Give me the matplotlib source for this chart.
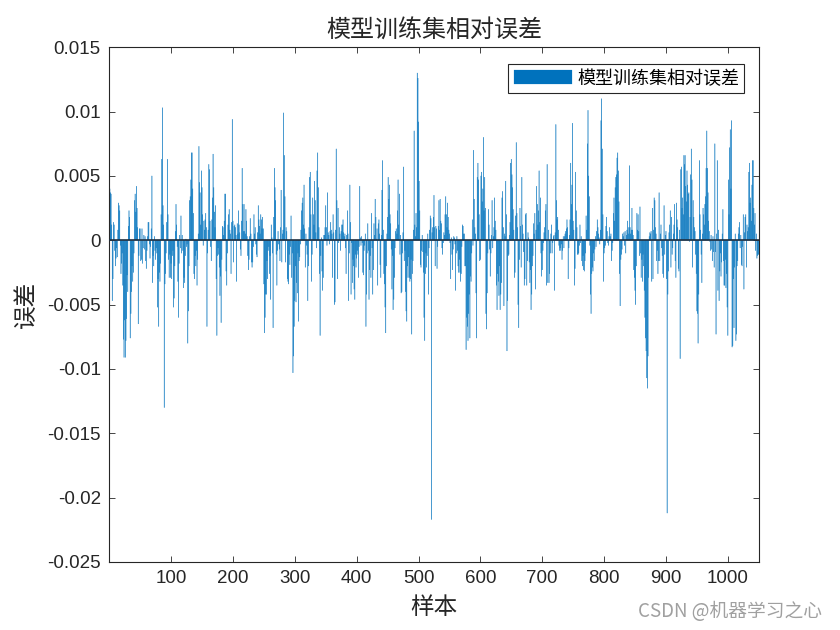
import matplotlib

matplotlib.use("Agg")
import matplotlib.pyplot as plt
import numpy as np

# relative error per training sample, in units of 1e-4
err_0001_0150 = [
    40, 37, 36, 12, -47, -30, 14, 12, -8, -20,
    -14, -6, -13, 8, 29, 27, 23, -4, -26, -18,
    -10, -35, -77, -91, -62, -91, -78, -61, -27, -40,
    11, 23, 18, -76, -57, -40, -20, -32, -25, -10,
    31, 36, 22, 42, 25, 10, -65, -12, 9, 9,
    -16, -15, 9, -18, -6, 4, -7, 3, -16, -22,
    -8, 3, 14, 14, -3, -14, -5, 9, 50, -33,
    -12, -20, 3, -8, -15, -6, -10, -52, -30, -67,
    -25, -32, -18, 20, 63, 103, 27, 12, -130, -34,
    -26, -10, 14, 63, 20, -15, -29, -11, -29, -18,
    -30, -12, -8, -52, -45, -20, 7, 28, 12, -5,
    -32, -60, -18, 4, -6, 19, -10, 4, -8, -37,
    -29, -33, -12, 1, -5, -3, -80, -55, -20, 31,
    34, 47, 68, 68, 40, 21, -26, -30, -12, -20,
    -8, -35, -15, 5, 73, 45, 37, 12, 54, 41,
]
err_0151_0300 = [
    20, -4, 15, 8, 16, 21, 10, -67, -10, 8,
    59, 55, 15, -5, -16, 16, 33, 67, 41, 22,
    10, 27, -30, -74, -12, -6, -11, -21, -43, -28,
    -64, -15, 11, 10, 4, 15, 36, 36, -24, -35,
    -10, 12, 20, 24, 8, 5, -26, 14, 94, 15,
    -17, 11, 12, 10, 4, -32, 13, 5, 23, 12,
    6, -7, -12, 15, 56, 28, 7, 28, 7, 5,
    24, 15, 3, -12, -23, -15, 3, 17, 5, -17,
    -21, -17, -5, 20, 5, 10, -3, -11, -13, 6,
    27, 16, 11, 5, 20, 16, 9, 18, 9, -34,
    -72, -60, -42, -42, -16, -30, -8, -5, -26, -12,
    -46, 12, 2, -10, -68, 18, 56, 41, 31, -11,
    -35, -8, 7, -3, -7, -16, 10, 39, -17, 5,
    8, 99, 66, 34, -17, 10, 7, -30, -32, -34,
    -11, -19, -5, 19, -29, -10, -103, -90, -67, -47,
]
err_0301_0450 = [
    -20, -48, -33, -41, -10, -63, -16, -13, -3, 8,
    23, 29, 33, 12, 43, 9, -21, 5, -4, -11,
    -47, -20, 10, 49, 53, 20, -32, -11, 33, 20,
    12, 46, 31, 6, -6, 54, 68, 41, 10, -26,
    -74, -12, 2, -24, -39, -29, 4, 4, 10, 27,
    10, -4, 37, 6, 4, -3, 7, 14, 8, 5,
    -29, 20, 6, -50, -48, 8, 71, 31, -30, 25,
    -2, 10, 5, -8, 7, 12, 12, 16, 6, 3,
    5, -6, -26, 4, 23, 5, -47, -10, 43, 14,
    -42, -2, -33, -15, -20, -38, -46, -11, -21, -14,
    -8, -11, -29, -5, 42, 2, -4, 3, -2, -25,
    -27, -8, -4, 5, -67, -42, -10, 13, -8, -46,
    -23, -12, -29, 21, -6, -42, -23, 13, 4, 32,
    18, 1, 9, -35, 13, 16, 5, -19, -29, 4,
    39, 62, 8, -26, -34, -52, -72, -20, 5, 18,
]
err_0451_0600 = [
    49, 32, 43, 20, 13, -7, -38, -12, -54, -46,
    -29, -6, 7, 9, 5, 23, 47, 12, 36, -11,
    4, -41, -40, -10, 6, 57, -16, -8, -40, -55,
    -63, -20, -29, -13, -29, -32, -30, -15, -73, -26,
    -16, 8, 85, 12, 3, 21, 10, 130, 126, 92,
    46, 23, -19, -21, -8, 4, -9, -25, -60, -78,
    -26, -10, -21, -12, 5, -42, -6, 8, 19, 17,
    -217, 6, 10, 18, 35, 10, -20, 11, 9, -22,
    -5, 11, 31, 8, 32, 15, 13, -6, -11, -2,
    6, 4, 20, 34, 20, 10, 29, 18, 8, 5,
    -2, -30, 2, -11, -23, -7, 3, 2, -3, -39,
    -10, 3, -8, -20, -25, -15, -25, -32, -26, -5,
    12, 11, 5, 5, -20, -20, -85, -60, -67, -78,
    -57, -42, -76, -28, -32, -10, 16, -4, 70, 32,
    10, 5, -41, -76, 49, 60, 47, 20, -16, -15,
]
err_0601_0750 = [
    50, 53, 30, 40, 80, 23, 49, 25, -57, -69,
    -41, -10, 24, 12, -7, -28, -10, 4, 31, -6,
    3, 10, 33, 15, 8, -35, -54, -26, -32, -43,
    -20, -54, -42, -33, 33, 38, 10, -51, 5, 3,
    46, 20, -86, -47, -12, -11, 4, 14, 60, 63,
    51, 41, 24, 8, -29, -25, 19, 76, 21, 10,
    -50, -68, -15, 25, 11, -21, 49, 12, 5, -9,
    -35, -30, 20, 21, -35, -16, 6, 2, -17, -33,
    -23, -54, -42, -20, -12, 13, 5, 21, -38, 8,
    42, 28, 12, 23, 54, 14, 33, -10, -28, -23,
    -8, -2, 6, 10, 23, 28, -35, 59, -33, 8,
    -33, -26, -10, 5, 12, -10, -2, 3, 4, -39,
    6, 90, 31, 16, 18, 8, -4, -8, -6, -8,
    -3, -15, -8, 3, -6, 3, 5, 7, 9, 16,
    10, -30, -6, 4, 16, 60, 28, 43, 91, 15,
]
err_0751_0900 = [
    8, -35, -22, 53, 23, 10, -11, -11, -10, -4,
    12, -2, 3, -16, -20, -12, -23, -24, -16, -10,
    19, 8, 75, 101, 50, 34, -4, -42, -57, -26,
    -21, -24, -10, -16, -7, 3, -5, 7, 16, 10,
    5, 2, -3, 8, 93, 110, 71, 20, -32, -10,
    -6, -4, 11, 18, 7, -2, -4, 3, 10, 3,
    5, -16, -8, -2, 21, 33, 15, 41, 49, 51,
    64, 68, 54, 30, -26, -51, -15, -11, -7, 5,
    3, 6, -4, 7, -10, 4, 8, 15, 5, 10,
    58, 10, 5, 8, 25, 8, 4, -23, -29, -39,
    -50, -20, 21, 8, 20, 7, -12, 26, -10, -29,
    -15, -32, -11, -20, -39, -60, -76, -86, -107, -115,
    -90, -29, 3, 6, 5, 7, -32, 25, -30, 8,
    33, 31, 10, 5, -16, -8, -26, -16, 37, -16,
    5, 12, -6, -12, -26, -29, 27, -11, 4, 7,
]
err_0901_1050 = [
    -30, -212, -42, -24, 6, 12, 23, -21, 18, -11,
    -6, 5, 12, 28, -16, -29, 29, 16, 10, -22,
    -24, 8, -92, 55, 57, 25, 33, 20, 66, 59,
    66, 42, 30, 54, 43, 36, 37, -1, 18, 51,
    71, 47, -21, 31, 18, 10, 7, -11, -26, -55,
    -57, -80, -42, 62, 20, 8, -11, -33, 5, 25,
    20, 12, 28, 34, 56, 85, 56, 37, 15, 7,
    -1, -8, 4, -7, -16, 3, -9, -21, 75, -9,
    -73, 5, 62, -39, 8, -47, -24, -10, -28, -17,
    5, 24, -16, -35, -35, -15, -37, -26, -52, -74,
    47, 20, 72, 86, 40, 93, -83, -82, -30, -68,
    -21, 5, -78, -73, -20, -16, 5, 10, 14, -6,
    4, -19, -20, -5, 20, -38, 6, 18, 20, -21,
    12, 7, 10, 53, 60, 29, 33, 15, 43, 62,
    62, 25, 12, 21, -8, 5, -14, -12, -11, -11,
]

x_ticks = [100, 200, 300, 400, 500, 600, 700, 800, 900, 1000]
y_ticks = [-0.025, -0.02, -0.015, -0.01, -0.005, 0, 0.005, 0.01, 0.015]
y_tick_labels = ["-0.025", "-0.02", "-0.015", "-0.01", "-0.005", "0", "0.005", "0.01", "0.015"]

title_text = "模型训练集相对误差"
legend_text = "模型训练集相对误差"
x_label = "样本"
y_label = "误差"
watermark = "CSDN @机器学习之心"

CJK = ["Noto Sans CJK SC", "DejaVu Sans"]
TICK_FONT = ["Liberation Sans", "DejaVu Sans"]


def main() -> None:
    rel_err = np.concatenate(
        [
            err_0001_0150,
            err_0151_0300,
            err_0301_0450,
            err_0451_0600,
            err_0601_0750,
            err_0751_0900,
            err_0901_1050,
        ]
    ).astype(float) * 1e-4
    samples = np.arange(1, len(rel_err) + 1)

    fig = plt.figure(figsize=(8.4, 6.3), dpi=100)
    ax = fig.add_axes([0.130, 0.108, 0.774, 0.817])

    # bars are narrower than a pixel: no snapping, otherwise many vanish
    bars = ax.bar(samples, rel_err, width=0.8, color="#0072BD",
                  edgecolor="#0072BD", linewidth=0.15, label=legend_text)
    for b in bars:
        b.set_snap(False)
    ax.axhline(0, color="#1f2f40", linewidth=1.2, zorder=3)

    ax.set_xlim(0, len(rel_err) + 1)
    ax.set_ylim(-0.025, 0.015)
    ax.set_xticks(x_ticks)
    ax.set_xticklabels([str(t) for t in x_ticks])
    ax.set_yticks(y_ticks)
    ax.set_yticklabels(y_tick_labels)

    ax.tick_params(
        direction="in", length=4.5, width=0.6, top=True, right=True,
        labelsize=13.5, colors="#262626", pad=6,
    )
    for lab in ax.get_xticklabels() + ax.get_yticklabels():
        lab.set_family(TICK_FONT)
    for sp in ax.spines.values():
        sp.set_color("#262626")
        sp.set_linewidth(0.8)

    ax.set_title(title_text, family=CJK, fontsize=17.3, color="#262626", pad=7)
    ax.set_xlabel(x_label, family=CJK, fontsize=17, color="#262626", labelpad=6)
    ax.set_ylabel(y_label, family=CJK, fontsize=17, color="#262626", labelpad=7)

    leg = ax.legend(
        loc="upper right", bbox_to_anchor=(0.977, 0.967), borderaxespad=0,
        fancybox=False, framealpha=1, edgecolor="#262626",
        handlelength=3.2, handleheight=0.8, handletextpad=0.3,
        borderpad=0.3, prop={"family": CJK, "size": 13},
    )
    leg.get_frame().set_linewidth(0.8)

    fig.text(0.979, 0.021, watermark, ha="right", va="baseline",
             family=CJK, fontsize=13.5, color="#a0a0a0")

    fig.savefig("out.png", dpi=100)


if __name__ == "__main__":
    main()
